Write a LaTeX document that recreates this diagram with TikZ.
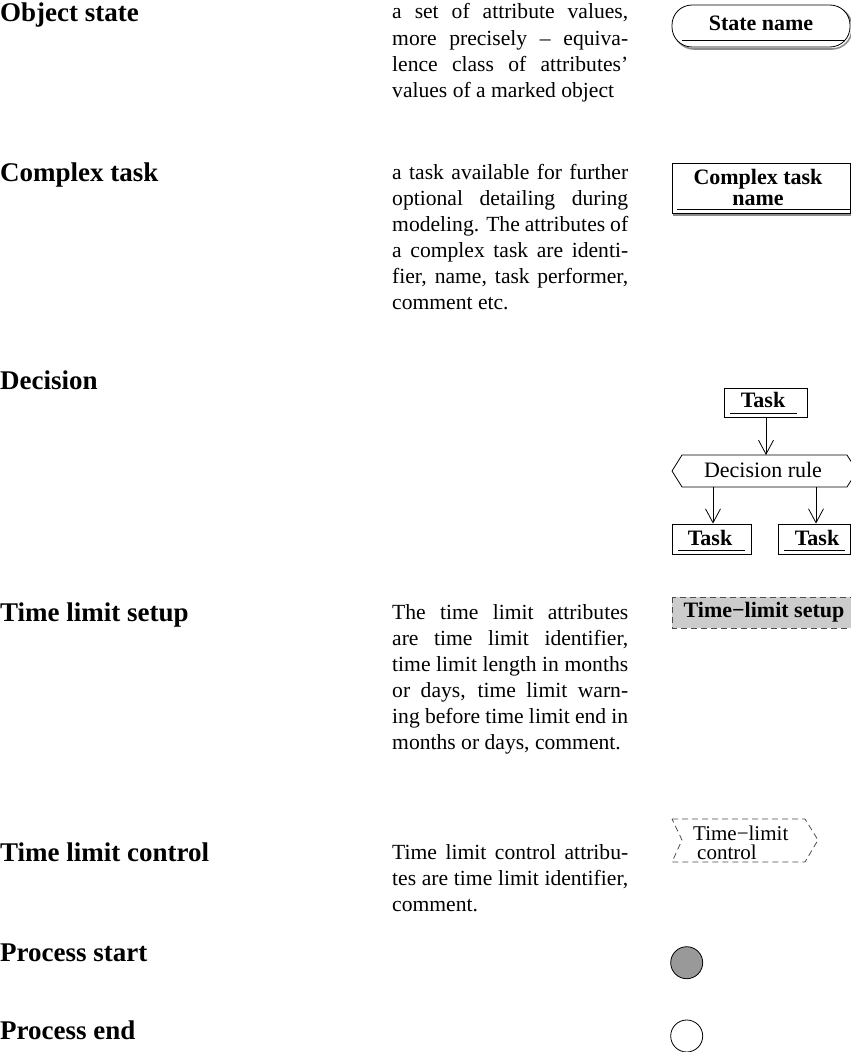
\documentclass[tikz,border=0pt]{standalone}
\usepackage{fontspec}
\setmainfont{Liberation Serif}
\usetikzlibrary{arrows.meta}
\newcommand\jl[1]{\makebox[\linewidth][s]{#1}\\}
\newcommand\descfont{\fontsize{21.6}{26}\selectfont}
\begin{document}
\begin{tikzpicture}[x=1pt,y=-1pt,
  lbl/.style={anchor=base west,inner sep=0,font=\fontsize{27}{30}\selectfont\bfseries},
  desc/.style={anchor=base west,inner sep=0},
  shapetxt/.style={inner sep=0,font=\fontsize{22}{21}\selectfont\bfseries},
  plaintxt/.style={inner sep=0,font=\fontsize{22}{21}\selectfont},
  smalltxt/.style={inner sep=0,font=\fontsize{21}{20}\selectfont},
  shline/.style={line width=0.8pt},
  shadowc/.style={draw=black!45,line width=1.6pt},
  taskbox/.style={draw,line width=0.8pt,fill=white,inner sep=0},
  arr/.style={line width=0.8pt,-{Straight Barb[length=14pt,width=15pt,line width=0.8pt]}},
  dashbox/.style={draw=black!70,line width=0.8pt,dash pattern=on 6pt off 4pt}
]
\useasboundingbox (0,0) rectangle (851,1052);
\clip (0,0) rectangle (851,1052);

% ---------- labels ----------
\node[lbl] (l1) at (0,21) {Object state};
\node[lbl] (l2) at (0,181) {Complex task};
\node[lbl] (l3) at (0,389) {Decision};
\node[lbl] (l4) at (0,621) {Time limit setup};
\node[lbl] (l5) at (0,861) {Time limit control};
\node[lbl] (l6) at (0,961) {Process start};
\node[lbl] (l7) at (0,1039) {Process end};

% ---------- descriptions ----------
\node[desc] (d1) at (392,19) {\begin{minipage}[t]{236pt}\descfont\jl{a set of attribute values,}\jl{more precisely – equiva-}\jl{lence class of attributes’}values of a marked object\end{minipage}};
\node[desc] (d2) at (392,179) {\begin{minipage}[t]{236pt}\descfont\jl{a task available for further}\jl{optional detailing during}\jl{modeling. The attributes of}\jl{a complex task are identi-}\jl{fier, name, task performer,}comment etc.\end{minipage}};
\node[desc] (d4) at (392,619) {\begin{minipage}[t]{236pt}\descfont\jl{The time limit attributes}\jl{are time limit identifier,}\jl{time limit length in months}\jl{or days, time limit warn-}\jl{ing before time limit end in}months or days, comment.\end{minipage}};
\node[desc] (d5) at (392,859) {\begin{minipage}[t]{236pt}\descfont\jl{Time limit control attribu-}\jl{tes are time limit identifier,}comment.\end{minipage}};

% ---------- object state ----------
\draw[shadowc,rounded corners=20pt] (674,7) rectangle (852,49);
\draw[shline,fill=white,rounded corners=20pt] (672,5) rectangle (850,47);
\draw[shline] (682,40) -- (845,40);
\node[shapetxt] (sn) at (761,23) {State name};

% ---------- complex task ----------
\draw[shadowc] (674,165) rectangle (853,215);
\draw[shline,fill=white] (672,163) rectangle (850,213);
\draw[shline] (677,209) -- (850,209);
\node[shapetxt,align=center] (ct) at (758,187) {Complex task\\name};

% ---------- decision ----------
\node[taskbox,minimum width=83pt,minimum height=29pt] (tt) at (765.5,402.5) {};
\node[shapetxt] (ttt) at (763,400) {Task};
\draw[shline] (730,413) -- (797,413);
\coordinate (drtop) at (766,455);
\draw[shline] (672,471) -- (682,455) -- (847,455) -- (857,471) -- (847,487) -- (682,487) -- cycle;
\node[plaintxt] (drt) at (763,470) {Decision rule};
\coordinate (drl) at (713,487);
\coordinate (drr) at (816,487);
\node[taskbox,minimum width=79pt,minimum height=30pt] (tl) at (711.5,539) {};
\node[taskbox,minimum width=72pt,minimum height=30pt] (tr) at (814,539) {};
\node[shapetxt] (tlt) at (710,538) {Task};
\node[shapetxt] (trt) at (817,538) {Task};
\draw[shline] (678,550) -- (745,550);
\draw[shline] (784,550) -- (845,550);
\draw[arr] (tt.south -| drtop) -- (drtop);
\draw[arr] (drl) -- (drl |- tl.north);
\draw[arr] (drr) -- (drr |- tr.north);

% ---------- time limit setup ----------
\draw[dashbox,fill=black!20] (672,597) rectangle (858,628);
\node[shapetxt] (tls) at (764,612) {Time−limit setup};

% ---------- time limit control ----------
\draw[dashbox] (672,819) -- (805,819) -- (818,840) -- (805,862) -- (672,862) -- (682,840) -- cycle;
\node[smalltxt,anchor=base west] (tlc1) at (693,840) {Time−limit};
\node[smalltxt,anchor=base west] (tlc2) at (697,859) {control};

% ---------- process start / end ----------
\node[draw,line width=0.8pt,fill=black!40,circle,minimum size=32pt,inner sep=0] (ps) at (686.7,962.7) {};
\node[draw,line width=0.8pt,fill=white,circle,minimum size=32pt,inner sep=0] (pe) at (686.7,1036) {};
\end{tikzpicture}
\end{document}
